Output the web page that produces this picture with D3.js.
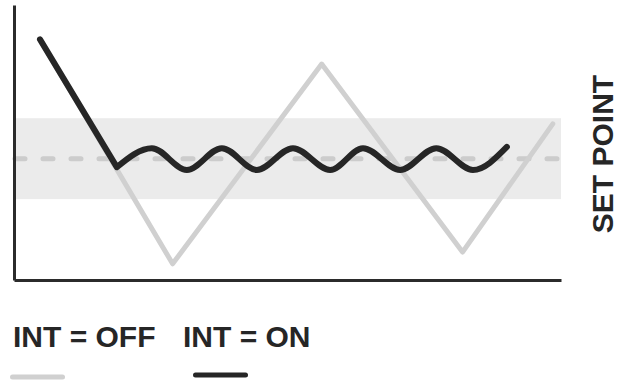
<!DOCTYPE html>
<html lang="en">
<head>
    <meta charset="utf-8">
    <title>Integral control: set point</title>
    <script src="https://d3js.org/d3.v7.min.js"></script>
    <style>
        body { margin: 0; background: #fff; }
        text { font-family: "Liberation Sans", Arial, sans-serif; font-weight: bold; fill: #262626; }
    </style>
</head>
<body>
<div id="chart"></div>
<script type="text/javascript">
// values: time 0..100, deviation from set point
var bandLow = -1, bandHigh = 1, setPoint = 0;

// INT = OFF, straight zig-zag
var offTime  = [4.75, 29.0, 56.25, 82.0, 98.5];
var offValue = [2.95, -2.60, 2.34, -2.31, 0.86];

// INT = ON, drop then settles into a small wave (start, junction, peaks/troughs, end)
var onTime  = [4.75, 18.8, 25.2, 31.6, 38.0, 44.4, 51.0, 57.8, 63.8, 70.6, 77.2, 83.9, 90.1];
var onValue = [2.95, -0.21, 0.26, -0.28, 0.26, -0.28, 0.26, -0.28, 0.26, -0.28, 0.26, -0.28, 0.29];

var legendLabels = ["INT = OFF", "INT = ON"];
var sideLabel = "SET POINT";

var width = 627, height = 383;

var svg = d3.select("#chart").append("svg")
    .attr("width", width)
    .attr("height", height);

var x = d3.scaleLinear().domain([0, 100]).range([14, 561]);
var y = d3.scaleLinear().domain([-3, 3.8]).range([280, 5]);

// set point band
svg.append("rect")
    .attr("x", x(0))
    .attr("y", y(bandHigh))
    .attr("width", x(100) - x(0))
    .attr("height", y(bandLow) - y(bandHigh))
    .attr("fill", "#ebebeb");

// dashed set point
svg.append("line")
    .attr("x1", x(0) + 1).attr("x2", x(100.2))
    .attr("y1", y(setPoint)).attr("y2", y(setPoint))
    .attr("stroke", "#cccccc")
    .attr("stroke-width", 5)
    .attr("stroke-linecap", "round")
    .attr("stroke-dasharray", "10 18");

var offData = offTime.map(function(t, i){ return [t, offValue[i]]; });
var onData = onTime.map(function(t, i){ return [t, onValue[i]]; });

var line = d3.line()
    .x(function(d){ return x(d[0]); })
    .y(function(d){ return y(d[1]); });

svg.append("path")
    .attr("d", line(offData))
    .attr("fill", "none")
    .attr("stroke", "#d0d0d0")
    .attr("stroke-width", 5)
    .attr("stroke-linejoin", "round")
    .attr("stroke-linecap", "round");

// straight drop, then the wave as a smooth curve
var onPath = line.curve(d3.curveLinear)(onData.slice(0, 2)) +
    line.curve(d3.curveMonotoneX)(onData.slice(1));

svg.append("path")
    .attr("d", onPath)
    .attr("fill", "none")
    .attr("stroke", "#262626")
    .attr("stroke-width", 6)
    .attr("stroke-linejoin", "round")
    .attr("stroke-linecap", "round");

// axes, no ticks
svg.append("g")
    .attr("transform", "translate(0," + y(-3) + ")")
    .call(d3.axisBottom(x).ticks(0).tickSizeOuter(0))
    .call(function(g){ g.select(".domain").attr("stroke", "#2b2b2b").attr("stroke-width", 3); });

svg.append("g")
    .attr("transform", "translate(" + x(0) + ",0)")
    .call(d3.axisLeft(y).ticks(0).tickSizeOuter(0))
    .call(function(g){ g.select(".domain").attr("stroke", "#2b2b2b").attr("stroke-width", 3); });

// side label
svg.append("text")
    .attr("transform", "translate(613,154) rotate(-90)")
    .attr("text-anchor", "middle")
    .attr("font-size", 30)
    .text(sideLabel);

// legend
var legendX = [13, 183];
var legendColors = ["#d0d0d0", "#262626"];
var legendLines = [[12.5, 62.5, 377], [195.5, 245.5, 375]];

legendLabels.forEach(function(label, i){
    svg.append("text")
        .attr("x", legendX[i])
        .attr("y", 347)
        .attr("font-size", 30)
        .text(label);
    svg.append("line")
        .attr("x1", legendLines[i][0]).attr("x2", legendLines[i][1])
        .attr("y1", legendLines[i][2]).attr("y2", legendLines[i][2])
        .attr("stroke", legendColors[i])
        .attr("stroke-width", 5)
        .attr("stroke-linecap", "round");
});
</script>
</body>
</html>
